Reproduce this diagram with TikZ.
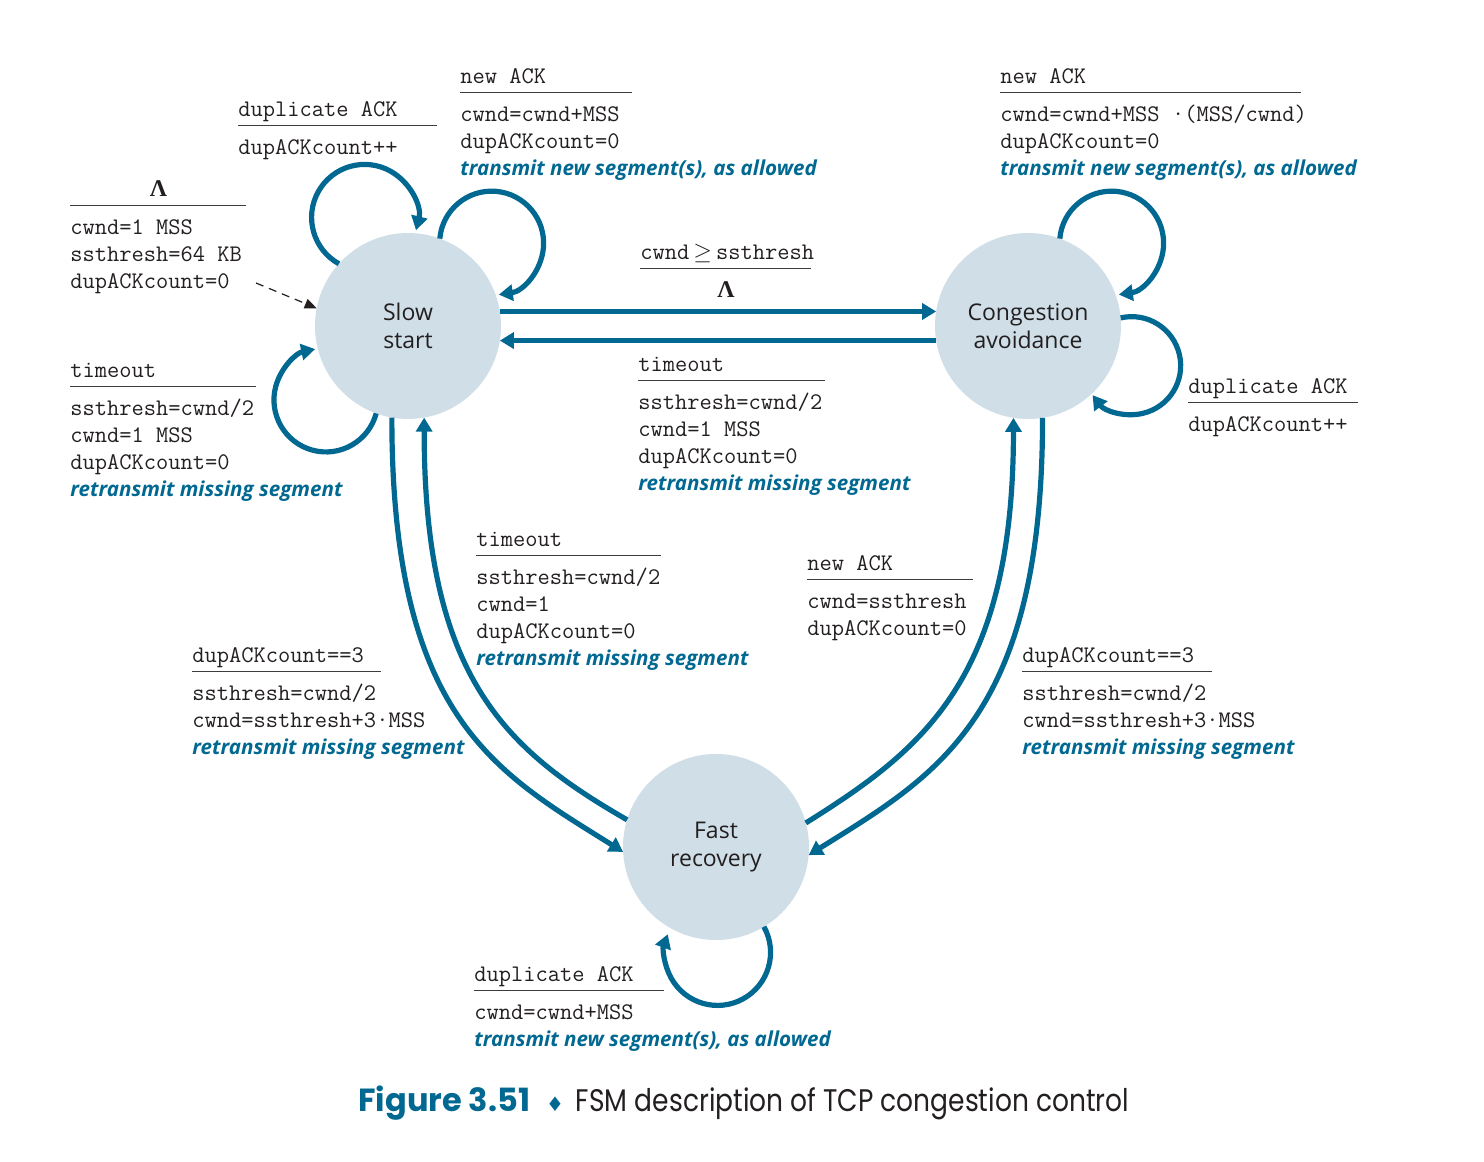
\documentclass[tikz,border=0pt]{standalone}
\usepackage{fontspec}
\usepackage{amsmath}
\setsansfont{Open Sans}
\newfontfamily\capfont[FakeStretch=0.85]{Poppins}
\newfontfamily\figfont{Poppins}
\newfontfamily\symfont{DejaVu Sans}
\newfontfamily\lamfont{Liberation Serif}
\usetikzlibrary{arrows.meta}
\definecolor{fsmblue}{RGB}{0, 104, 145}
\definecolor{statefill}{RGB}{207, 222, 231}
\definecolor{textgray}{RGB}{35, 31, 32}
\definecolor{rulegray}{RGB}{60, 60, 60}
% Ereignis, Strich, Aktionen
\newcommand{\evt}[3]{\begin{tabular}[t]{@{}l@{}}#2\\[-8.5pt]{\color{rulegray}\rule{#1}{0.7pt}}\\[0.5pt]#3\end{tabular}}
\newcommand{\act}[1]{{\color{fsmblue}\sffamily\itshape\bfseries\fontsize{10.3}{13.5}\selectfont #1}}
\newcommand{\lam}{{\lamfont\bfseries\fontsize{12}{13.5}\selectfont Λ}}

\begin{document}
\begin{tikzpicture}[x=0.5pt, y=0.5pt,
			>={Triangle[length=7pt,width=8pt]},
			state/.style={circle, fill=statefill, minimum size=93pt, inner sep=0pt, outer sep=0pt,
				align=center, text=textgray, font=\sffamily\fontsize{11.5}{14}\selectfont},
			tr/.style={->, draw=fsmblue, line width=2.6pt},
			initarr/.style={->, draw=textgray, line width=0.6pt, dash pattern=on 4pt off 3pt,
				>={Triangle[length=6pt,width=5pt]}},
			lbl/.style={anchor=base west, inner sep=0pt, text=textgray,
				font=\ttfamily\fontsize{11.9}{13.5}\selectfont}]
			\useasboundingbox (0,0) rectangle (1484,-1162);
			%Zustaende
			\node[state] (ss) at (408,-326) {Slow\\start};
			\node[state] (ca) at (1028,-326) {Congestion\\avoidance};
			\node[state] (fr) at (716,-847) {Fast\\recovery};
			% Start
			\coordinate (init) at (256,-283);
			\draw[initarr] (init) -- (ss.169);
			% Schleifen
			\draw[tr] (ss.138) arc[start angle=241, end angle=-14, radius=53];
			\draw[tr] (ss.70) arc[start angle=175, end angle=-82, radius=52];
			\draw[tr] (ss.250) arc[start angle=-15, end angle=-258, radius=52];
			\draw[tr] (ca.70) arc[start angle=175, end angle=-82, radius=52];
			\draw[tr] (ca.5) arc[start angle=103, end angle=-143, radius=49];
			\draw[tr] (fr.-59) arc[start angle=29, end angle=-200, radius=53];
			% Uebergaenge
			\draw[tr] (ss.9) -- (ca.171);
			\draw[tr] (ca.189) -- (ss.351);
			\draw[tr] (ss.260) .. controls +(-90:300) and +(148:150) .. (fr.183);
			\draw[tr] (fr.163) .. controls +(150:140) and +(-90:260) .. (ss.280);
			\draw[tr] (fr.15) .. controls +(32:140) and +(-90:260) .. (ca.261);
			\draw[tr] (ca.279) .. controls +(-90:300) and +(32:150) .. (fr.355);
			%Beschriftung
			\node[lbl] (linit) at (70,-196) {\evt{88pt}{\makebox[88pt]{\lam}}{cwnd=1 MSS\\ssthresh=64 KB\\dupACKcount=0}};
			\node[lbl] (lssdup) at (238,-116) {\evt{99.5pt}{duplicate ACK}{dupACKcount++}};
			\node[lbl] (lssnew) at (460,-83) {\evt{86pt}{new ACK}{cwnd=cwnd+MSS\\dupACKcount=0\\\act{transmit new segment(s), as allowed}}};
			\node[lbl] (lcanew) at (1000,-83) {\evt{150.5pt}{new ACK}{cwnd=cwnd+MSS ·(MSS/cwnd)\\dupACKcount=0\\\act{transmit new segment(s), as allowed}}};
			\node[lbl] (lssca) at (640,-259) {\evt{85.5pt}{cwnd\,$\geq$\,ssthresh}{\makebox[85.5pt]{\lam}}};
			\node[lbl] (lcass) at (638,-371) {\evt{93.5pt}{timeout}{ssthresh=cwnd/2\\cwnd=1 MSS\\dupACKcount=0\\\act{retransmit missing segment}}};
			\node[lbl] (lsstime) at (70,-377) {\evt{93pt}{timeout}{ssthresh=cwnd/2\\cwnd=1 MSS\\dupACKcount=0\\\act{retransmit missing segment}}};
			\node[lbl] (lcadup) at (1188,-393) {\evt{85pt}{duplicate ACK}{dupACKcount++}};
			\node[lbl] (lfrss) at (476,-546) {\evt{92.5pt}{timeout}{ssthresh=cwnd/2\\cwnd=1\\dupACKcount=0\\\act{retransmit missing segment}}};
			\node[lbl] (lssfr) at (192,-662) {\evt{94.5pt}{dupACKcount==3}{ssthresh=cwnd/2\\cwnd=ssthresh+3·MSS\\\act{retransmit missing segment}}};
			\node[lbl] (lfrca) at (807,-570) {\evt{83pt}{new ACK}{cwnd=ssthresh\\dupACKcount=0}};
			\node[lbl] (lcafr) at (1022,-662) {\evt{95pt}{dupACKcount==3}{ssthresh=cwnd/2\\cwnd=ssthresh+3·MSS\\\act{retransmit missing segment}}};
			\node[lbl] (lfrdup) at (474,-981) {\evt{95pt}{duplicate ACK}{cwnd=cwnd+MSS\\\act{transmit new segment(s), as allowed}}};
			% Bildunterschrift
			\node[anchor=base west, inner sep=0pt, text=textgray] (cap) at (358,-1111)
				{{\figfont\bfseries\fontsize{16}{18}\selectfont\color{fsmblue}Figure 3.51}\hspace{8pt}{\symfont\fontsize{10}{12}\selectfont\color{fsmblue}♦}\hspace{6pt}{\capfont\fontsize{15.6}{18}\selectfont FSM description of TCP congestion control}};
		\end{tikzpicture}
\end{document}
